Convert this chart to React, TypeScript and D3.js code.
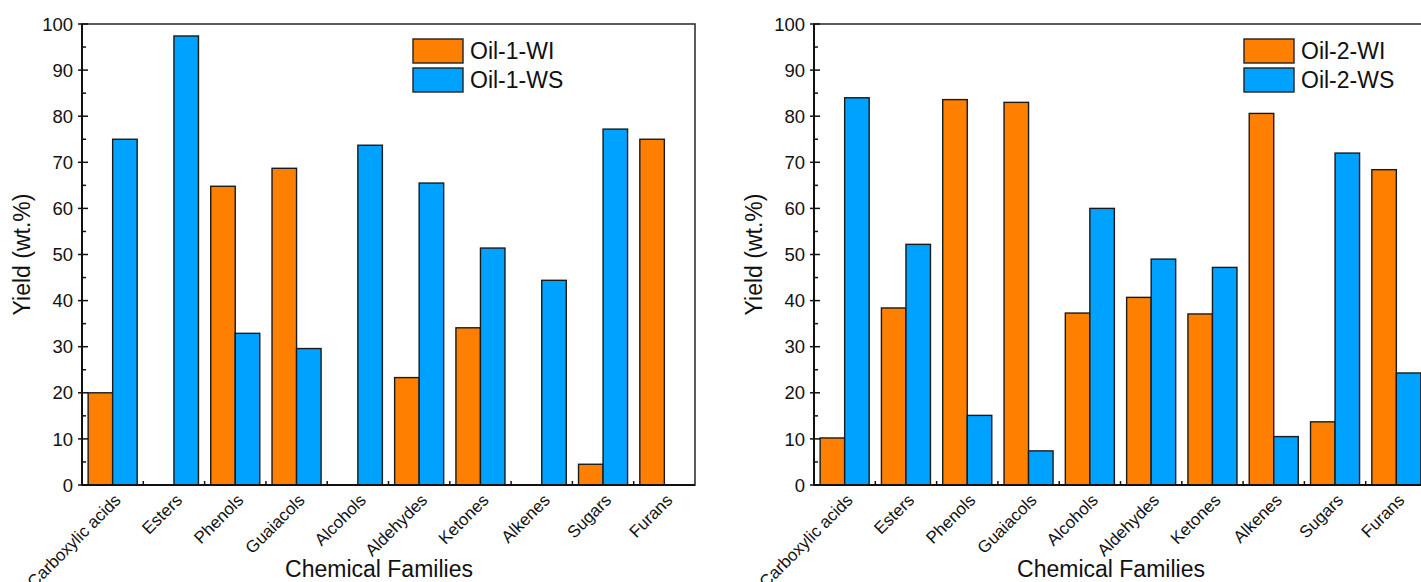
import * as d3 from 'd3';

const categories = ['Carboxylic acids', 'Esters', 'Phenols', 'Guaiacols', 'Alcohols', 'Aldehydes', 'Ketones', 'Alkenes', 'Sugars', 'Furans'];
const oil1WI = [20, 0, 64.8, 68.7, 0, 23.3, 34.1, 0, 4.5, 75];
const oil1WS = [75, 97.4, 32.9, 29.6, 73.7, 65.5, 51.4, 44.4, 77.2, 0];
const oil2WI = [10.2, 38.4, 83.6, 83, 37.3, 40.7, 37.1, 80.6, 13.7, 68.4];
const oil2WS = [84, 52.2, 15.1, 7.4, 60, 49, 47.2, 10.5, 72, 24.3];
const yTicks = [0, 10, 20, 30, 40, 50, 60, 70, 80, 90, 100];

const ORANGE = '#FF8000';
const BLUE = '#00A2FF';
const FONT = '"Liberation Sans", Arial, sans-serif';

const top = 24, bottom = 485, plotW = 613;

function Panel({ x0, wi, ws, names, legX }) {
    const x = d3.scaleBand().domain(categories).range([x0, x0 + plotW]).paddingInner(0.2).paddingOuter(0.1);
    const sub = d3.scaleBand().domain(['WI', 'WS']).range([0, x.bandwidth()]);
    const y = d3.scaleLinear().domain([0, 100]).range([bottom, top]);
    const step = x.step();
    const minor = d3.range(5, 100, 10);

    return (
        <g>
            {categories.map((c, i) => (
                <g key={c}>
                    {wi[i] > 0 && <rect x={x(c)} y={y(wi[i])} width={sub.bandwidth()} height={y(0) - y(wi[i])}
                        fill={ORANGE} stroke="#1a1a1a" strokeWidth={1.4} />}
                    {ws[i] > 0 && <rect x={x(c) + sub('WS')} y={y(ws[i])} width={sub.bandwidth()} height={y(0) - y(ws[i])}
                        fill={BLUE} stroke="#1a1a1a" strokeWidth={1.4} />}
                </g>
            ))}
            {/* frame */}
            <rect x={x0} y={top} width={plotW} height={bottom - top} fill="none" stroke="#333" strokeWidth={1.6} />
            <line x1={x0} x2={x0} y1={top} y2={bottom} stroke="#111" strokeWidth={2} />
            <line x1={x0} x2={x0 + plotW} y1={bottom} y2={bottom} stroke="#111" strokeWidth={2} />
            {/* y ticks */}
            {yTicks.map(t => (
                <g key={t}>
                    <line x1={x0 - 4} x2={x0 + 6} y1={y(t)} y2={y(t)} stroke="#111" strokeWidth={1.5} />
                    <text x={x0 - 9} y={y(t)} dy="0.36em" textAnchor="end" fontSize={18.5} fontFamily={FONT} fill="#111">{t}</text>
                </g>
            ))}
            {minor.map(t => (
                <line key={t} x1={x0} x2={x0 + 4} y1={y(t)} y2={y(t)} stroke="#111" strokeWidth={1.5} />
            ))}
            {/* x ticks at group boundaries */}
            {d3.range(1, categories.length).map(i => (
                <line key={i} x1={x0 + i * step} x2={x0 + i * step} y1={bottom} y2={bottom - 4} stroke="#111" strokeWidth={1.5} />
            ))}
            {categories.map(c => {
                const cx = x(c) + x.bandwidth() / 2;
                return (
                    <text key={c} transform={`translate(${cx + 5},${bottom + 12}) rotate(-45)`} textAnchor="end"
                        dy="0.35em" fontSize={17} fontFamily={FONT} fill="#111">{c}</text>
                );
            })}
            <text x={x0 + 297} y={577} textAnchor="middle" fontSize={23} fontFamily={FONT} fill="#111">Chemical Families</text>
            <text transform={`translate(${x0 - 60},${(top + bottom) / 2}) rotate(-90)`} textAnchor="middle" dy="0.35em"
                fontSize={23} fontFamily={FONT} fill="#111">Yield (wt.%)</text>
            {/* legend */}
            <rect x={legX} y={39} width={50} height={24} fill={ORANGE} stroke="#222" strokeWidth={1.4} />
            <rect x={legX} y={68} width={50} height={24} fill={BLUE} stroke="#222" strokeWidth={1.4} />
            <text x={legX + 57} y={51} dy="0.36em" fontSize={23} fontFamily={FONT} fill="#111">{names[0]}</text>
            <text x={legX + 57} y={80} dy="0.36em" fontSize={23} fontFamily={FONT} fill="#111">{names[1]}</text>
        </g>
    );
}

export default function App() {
    return (
        <svg width={1421} height={582} style={{ position: 'absolute', left: 0, top: 0, background: '#fff' }}>
            <Panel x0={82} wi={oil1WI} ws={oil1WS} names={['Oil-1-WI', 'Oil-1-WS']} legX={413} />
            <Panel x0={814} wi={oil2WI} ws={oil2WS} names={['Oil-2-WI', 'Oil-2-WS']} legX={1244} />
        </svg>
    );
}
